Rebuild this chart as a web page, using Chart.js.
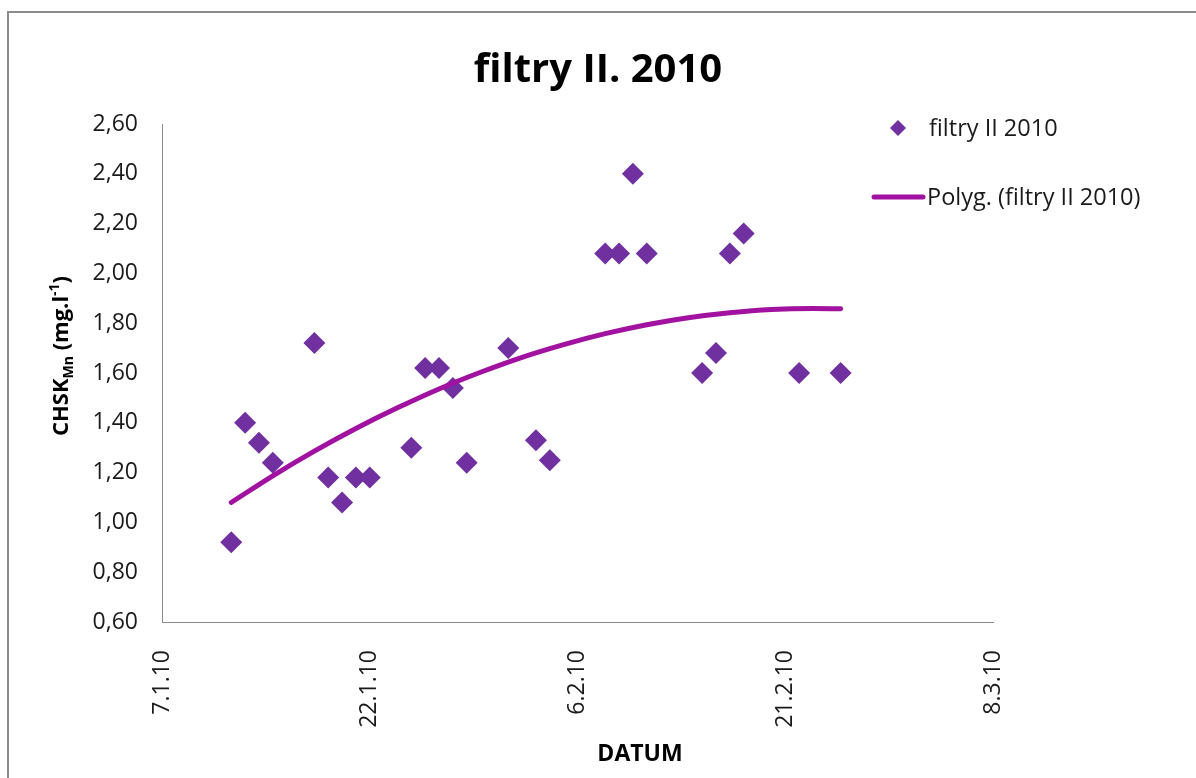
<!DOCTYPE html>
<html>
<head>
<meta charset="utf-8">
<script src="https://cdn.jsdelivr.net/npm/chart.js@4.4.1/dist/chart.umd.min.js"></script>
<style>
  html, body { margin: 0; padding: 0; background: #fff; }
  #wrap { position: relative; width: 1196px; height: 778px; overflow: hidden; }
  #frame { position: absolute; left: 7px; top: 11px; width: 1210px; height: 800px; border: 2px solid #8c8c8c; box-sizing: border-box; }
  #chart { position: absolute; left: 0; top: 0; }
</style>
</head>
<body>
<div id="wrap">
  <div id="frame"></div>
  <canvas id="chart" width="1196" height="778"></canvas>
</div>
<script>
// measured samples (date d.m.yy) and CHSK Mn values
const startDate = "7.1.10";
const sampleDates = ["12.1.10", "13.1.10", "14.1.10", "15.1.10", "18.1.10", "19.1.10", "20.1.10",
  "21.1.10", "22.1.10", "25.1.10", "26.1.10", "27.1.10", "28.1.10", "29.1.10", "1.2.10",
  "3.2.10", "4.2.10", "8.2.10", "9.2.10", "10.2.10", "11.2.10", "15.2.10", "16.2.10",
  "17.2.10", "18.2.10", "22.2.10", "25.2.10"];
const chskValues = [0.92, 1.40, 1.32, 1.24, 1.72, 1.18, 1.08, 1.18, 1.18, 1.30, 1.62, 1.62, 1.54,
  1.24, 1.70, 1.33, 1.25, 2.08, 2.08, 2.40, 2.08, 1.60, 1.68, 2.08, 2.16, 1.60, 1.60];

// polynomial trend line
const trendDates = ["12.1.10", "15.1.10", "18.1.10", "21.1.10", "24.1.10", "27.1.10", "30.1.10",
  "2.2.10", "5.2.10", "8.2.10", "11.2.10", "14.2.10", "17.2.10", "20.2.10", "23.2.10", "25.2.10"];
const trendValues = [1.080, 1.187, 1.286, 1.377, 1.460, 1.536, 1.603, 1.663, 1.714, 1.758, 1.794,
  1.822, 1.842, 1.855, 1.859, 1.858];

const xTickLabels = ["7.1.10", "22.1.10", "6.2.10", "21.2.10", "8.3.10"];
const xStepDays = 15;
const yMin = 0.6, yMax = 2.6, yStep = 0.2;

const FONT = "'Open Sans', 'Liberation Sans', sans-serif";
const MARKER = "#7030A0";
const TREND = "#A0129F";

function dayIndex(s) {
  const p = s.split(".").map(Number);
  const q = startDate.split(".").map(Number);
  return (Date.UTC(2000 + p[2], p[1] - 1, p[0]) - Date.UTC(2000 + q[2], q[1] - 1, q[0])) / 86400000;
}

const legendBox = {
  id: "legendBox",
  afterDraw(chart) {
    const ctx = chart.ctx;
    const ds = chart.data.datasets;
    ctx.save();
    ctx.font = "23.5px " + FONT;
    ctx.textBaseline = "middle";
    // marker entry
    ctx.fillStyle = MARKER;
    ctx.beginPath();
    ctx.moveTo(898, 120); ctx.lineTo(906, 128); ctx.lineTo(898, 136); ctx.lineTo(890, 128);
    ctx.closePath(); ctx.fill();
    ctx.fillStyle = "#1a1a1a";
    ctx.fillText(ds[0].label, 929, 129);
    // line entry
    ctx.strokeStyle = TREND;
    ctx.lineWidth = 5;
    ctx.lineCap = "round";
    ctx.beginPath(); ctx.moveTo(874, 197); ctx.lineTo(923, 197); ctx.stroke();
    ctx.fillText(ds[1].label, 927, 198);
    ctx.restore();
  }
};

const axisTitles = {
  id: "axisTitles",
  afterDraw(chart) {
    const ctx = chart.ctx;
    ctx.save();
    ctx.fillStyle = "#000";
    ctx.textBaseline = "alphabetic";
    // x title
    ctx.font = "bold 23px " + FONT;
    ctx.textAlign = "center";
    ctx.fillText("DATUM", 640, 761);
    // y title with sub/superscripts
    const parts = [
      { t: "CHSK", size: 22, dy: 0 },
      { t: "Mn", size: 14, dy: 5 },
      { t: " (mg.l", size: 22, dy: 0 },
      { t: "-1", size: 14, dy: -9 },
      { t: ")", size: 22, dy: 0 }
    ];
    let total = 0;
    parts.forEach(p => { ctx.font = "bold " + p.size + "px " + FONT; p.w = ctx.measureText(p.t).width; total += p.w; });
    ctx.translate(68, 356);
    ctx.rotate(-Math.PI / 2);
    ctx.textAlign = "left";
    let x = -total / 2;
    parts.forEach(p => {
      ctx.font = "bold " + p.size + "px " + FONT;
      ctx.fillText(p.t, x, p.dy);
      x += p.w;
    });
    ctx.restore();
  }
};

const ctx = document.getElementById("chart").getContext("2d");
new Chart(ctx, {
  type: "scatter",
  data: {
    datasets: [{
      label: "filtry II 2010",
      data: sampleDates.map((d, i) => ({ x: dayIndex(d), y: chskValues[i] })),
      pointStyle: "rectRot",
      pointRadius: 11,
      pointHoverRadius: 11,
      backgroundColor: MARKER,
      borderColor: MARKER,
      borderWidth: 0,
      order: 1
    }, {
      label: "Polyg. (filtry II 2010)",
      data: trendDates.map((d, i) => ({ x: dayIndex(d), y: trendValues[i] })),
      showLine: true,
      borderColor: TREND,
      borderWidth: 5,
      borderCapStyle: "round",
      pointRadius: 0,
      cubicInterpolationMode: "monotone",
      fill: false,
      order: 0
    }]
  },
  options: {
    responsive: false,
    animation: false,
    layout: { padding: 0 },
    plugins: {
      legend: { display: false },
      tooltip: { enabled: false },
      title: {
        display: true,
        text: "filtry II. 2010",
        color: "#000",
        font: { family: FONT, size: 40, weight: "bold" },
        padding: { top: 47, bottom: 29 }
      }
    },
    scales: {
      x: {
        type: "linear",
        min: 0,
        max: xStepDays * (xTickLabels.length - 1),
        grid: { display: false, drawTicks: false },
        border: { display: true, color: "#8a8a8a", width: 1 },
        ticks: {
          stepSize: xStepDays,
          autoSkip: false,
          minRotation: 90,
          maxRotation: 90,
          padding: 28,
          color: "#1a1a1a",
          font: { family: FONT, size: 23 },
          callback: v => xTickLabels[Math.round(v / xStepDays)]
        },
        afterFit: s => { s.height = 156; }
      },
      y: {
        min: yMin,
        max: yMax,
        grid: { display: false, drawTicks: false },
        border: { display: true, color: "#8a8a8a", width: 1 },
        ticks: {
          stepSize: yStep,
          padding: 24,
          color: "#1a1a1a",
          font: { family: FONT, size: 23 },
          callback: v => v.toFixed(2).replace(".", ",")
        },
        afterFit: s => { s.width = 162; }
      },
      // empty right-hand axis that keeps room for the legend
      spacer: {
        position: "right",
        display: true,
        grid: { display: false, drawTicks: false },
        border: { display: false },
        ticks: { display: false },
        afterFit: s => { s.width = 203; }
      }
    }
  },
  plugins: [legendBox, axisTitles]
});
</script>
</body>
</html>
